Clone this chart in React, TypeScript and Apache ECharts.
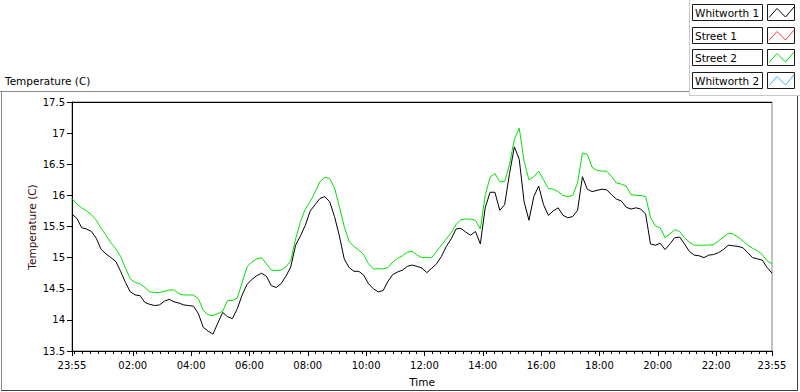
import React, { useEffect, useRef } from "react";
import * as echarts from "echarts";

// Minutes after 23:55 (sampled every 10 min over 24 h)
const WHITWORTH_1 = [
  15.70, 15.63, 15.48, 15.46, 15.42, 15.31, 15.13, 15.06, 15.00, 14.94, 14.78, 14.60,
  14.45, 14.40, 14.39, 14.28, 14.25, 14.23, 14.24, 14.30, 14.33, 14.29, 14.27, 14.24,
  14.23, 14.22, 14.10, 13.88, 13.82, 13.77, 13.95, 14.12, 14.05, 14.02, 14.18, 14.40,
  14.57, 14.65, 14.71, 14.75, 14.70, 14.55, 14.52, 14.58, 14.70, 14.85, 15.20, 15.35,
  15.52, 15.75, 15.85, 15.95, 15.98, 15.90, 15.66, 15.35, 14.98, 14.84, 14.78, 14.78,
  14.72, 14.58, 14.50, 14.45, 14.47, 14.62, 14.73, 14.77, 14.80, 14.86, 14.88, 14.86,
  14.83, 14.76, 14.83, 14.90, 15.02, 15.18, 15.30, 15.46, 15.47, 15.41, 15.36, 15.42,
  15.22, 15.80, 16.05, 16.05, 15.76, 15.85, 16.35, 16.78, 16.58, 15.90, 15.60, 15.98,
  16.15, 15.85, 15.68, 15.75, 15.80, 15.68, 15.64, 15.66, 15.76, 16.30, 16.10, 16.06,
  16.08, 16.10, 16.09, 16.01, 15.94, 15.91, 15.81, 15.78, 15.80, 15.78, 15.70, 15.22,
  15.20, 15.23, 15.13, 15.22, 15.32, 15.33, 15.22, 15.10, 15.04, 15.03, 15.00, 15.04,
  15.05, 15.08, 15.13, 15.20, 15.19, 15.18, 15.16, 15.08, 15.00, 14.98, 14.96, 14.84,
  14.75,
];

const STREET_2 = [
  15.95, 15.86, 15.80, 15.75, 15.69, 15.60, 15.47, 15.36, 15.24, 15.14, 15.02, 14.83,
  14.66, 14.60, 14.58, 14.52, 14.45, 14.44, 14.44, 14.46, 14.48, 14.48, 14.42, 14.40,
  14.40, 14.40, 14.34, 14.15, 14.08, 14.07, 14.10, 14.14, 14.31, 14.31, 14.35, 14.60,
  14.85, 14.93, 14.98, 15.00, 14.90, 14.80, 14.79, 14.80, 14.85, 14.95, 15.30, 15.58,
  15.78, 15.90, 16.05, 16.22, 16.29, 16.27, 16.12, 15.82, 15.50, 15.26, 15.18, 15.12,
  15.05, 14.90, 14.82, 14.82, 14.82, 14.84, 14.93, 14.99, 15.03, 15.09, 15.10, 15.04,
  15.00, 15.00, 15.00, 15.10, 15.20, 15.30, 15.40, 15.53, 15.61, 15.62, 15.62, 15.60,
  15.46, 16.00, 16.29, 16.35, 16.22, 16.22, 16.50, 16.90, 17.08, 16.55, 16.25, 16.30,
  16.39, 16.25, 16.11, 16.10, 16.06, 16.00, 15.98, 16.00, 16.20, 16.68, 16.66, 16.45,
  16.40, 16.39, 16.39, 16.30, 16.20, 16.18, 16.15, 16.01, 16.00, 16.00, 15.98, 15.65,
  15.51, 15.48, 15.32, 15.38, 15.45, 15.42, 15.32, 15.25, 15.20, 15.20, 15.20, 15.20,
  15.21, 15.27, 15.33, 15.39, 15.38, 15.33, 15.27, 15.20, 15.15, 15.11, 15.05, 14.95,
  14.90,
];

const STREET_1: number[] = [];
const WHITWORTH_2: number[] = [];

const SAMPLE_STEP_MIN = 10;

// Major tick positions (minutes after 23:55) and their labels
const MAJOR_TICKS = [0, 125, 245, 365, 485, 605, 725, 845, 965, 1085, 1205, 1325, 1440];
const MAJOR_LABELS = [
  "23:55", "02:00", "04:00", "06:00", "08:00", "10:00", "12:00",
  "14:00", "16:00", "18:00", "20:00", "22:00", "23:55",
];
// Minor ticks every 16 min from midnight (midnight = 5 min after 23:55)
const MINOR_START = 5;
const MINOR_STEP = 16;

const LEGEND_NAMES = ["Whitworth 1", "Street 1", "Street 2", "Whitworth 2"];
const LEGEND_COLORS = ["#000000", "#ff3a3a", "#00e000", "#33b4ff"];

const FONT = "DejaVu Sans";

function toPairs(values: number[]) {
  return values.map((v, i) => [i * SAMPLE_STEP_MIN, v]);
}

export default function App() {
  const ref = useRef<HTMLDivElement>(null);

  useEffect(() => {
    document.body.style.margin = "0";
    if (!ref.current) return;
    const chart = echarts.init(ref.current, undefined, { renderer: "svg" });

    const minor: number[] = [];
    for (let m = MINOR_START; m <= 1440; m += MINOR_STEP) minor.push(m);

    const legendRows = [4, 27, 49, 72];
    const legendGraphics: any[] = [];
    LEGEND_NAMES.forEach((name, i) => {
      const y = legendRows[i];
      legendGraphics.push({
        type: "rect",
        shape: { x: 692.5, y: y + 0.5, width: 70, height: 16 },
        style: { fill: "#fff", stroke: "#1a1a1a", lineWidth: 1 },
      });
      legendGraphics.push({
        type: "text",
        x: 695,
        y: y + 9,
        style: {
          text: name,
          fill: "#000",
          font: `10.5px "${FONT}"`,
          verticalAlign: "middle",
          align: "left",
        },
      });
      legendGraphics.push({
        type: "rect",
        shape: { x: 767.5, y: y + 0.5, width: 27, height: 16 },
        style: { fill: "#fff", stroke: "#1a1a1a", lineWidth: 1 },
      });
      legendGraphics.push({
        type: "polyline",
        shape: {
          points: [
            [769, y + 13.5],
            [777, y + 4.5],
            [785.5, y + 13],
            [794, y + 3],
          ],
        },
        style: { stroke: LEGEND_COLORS[i], lineWidth: 1, fill: "none" },
      });
    });

    const option: any = {
      animation: false,
      backgroundColor: "#fff",
      textStyle: { fontFamily: FONT },
      grid: {
        left: 72,
        top: 102,
        width: 700,
        height: 250,
        show: true,
        borderColor: "#808080",
        borderWidth: 1,
        backgroundColor: "#fff",
      },
      xAxis: [
        {
          type: "value",
          min: 0,
          max: 1440,
          name: "Time",
          nameLocation: "middle",
          nameGap: 25,
          nameTextStyle: { color: "#000", fontSize: 10.5, fontFamily: FONT },
          axisLine: { show: true, lineStyle: { color: "#000", width: 1 } },
          axisTick: {
            show: true,
            length: 5,
            customValues: MAJOR_TICKS,
            lineStyle: { color: "#000" },
          },
          axisLabel: {
            customValues: MAJOR_TICKS,
            formatter: (v: number) => {
              const idx = MAJOR_TICKS.indexOf(Math.round(v));
              return idx >= 0 ? MAJOR_LABELS[idx] : "";
            },
            color: "#000",
            fontSize: 10,
            fontFamily: FONT,
            margin: 9,
          },
          splitLine: { show: false },
        },
        {
          type: "value",
          min: 0,
          max: 1440,
          position: "bottom",
          axisLine: { show: false },
          axisTick: {
            show: true,
            length: 3,
            customValues: minor,
            lineStyle: { color: "#000" },
          },
          axisLabel: { show: false },
          splitLine: { show: false },
        },
      ],
      yAxis: {
        type: "value",
        min: 13.5,
        max: 17.5,
        interval: 0.5,
        axisLine: { show: true, lineStyle: { color: "#000" } },
        axisTick: { show: true, length: 5, lineStyle: { color: "#000" } },
        axisLabel: { color: "#000", fontSize: 10, fontFamily: FONT, margin: 7 },
        splitLine: { show: false },
      },
      series: [
        {
          name: "Street 2",
          type: "line",
          data: toPairs(STREET_2),
          showSymbol: false,
          lineStyle: { color: "#00e000", width: 1 },
          itemStyle: { color: "#00e000" },
          z: 2,
        },
        {
          name: "Street 1",
          type: "line",
          data: toPairs(STREET_1),
          showSymbol: false,
          lineStyle: { color: "#ff3a3a", width: 1 },
          z: 2,
        },
        {
          name: "Whitworth 2",
          type: "line",
          data: toPairs(WHITWORTH_2),
          showSymbol: false,
          lineStyle: { color: "#33b4ff", width: 1 },
          z: 2,
        },
        {
          name: "Whitworth 1",
          type: "line",
          data: toPairs(WHITWORTH_1),
          showSymbol: false,
          lineStyle: { color: "#000", width: 1 },
          itemStyle: { color: "#000" },
          z: 3,
        },
      ],
      graphic: [
        // outer frame
        { type: "line", shape: { x1: 0, y1: 91.5, x2: 690, y2: 91.5 }, style: { stroke: "#8a8a8a", lineWidth: 1 } },
        { type: "line", shape: { x1: 1.5, y1: 91.5, x2: 1.5, y2: 390 }, style: { stroke: "#8a8a8a", lineWidth: 1 } },
        { type: "line", shape: { x1: 1, y1: 390.5, x2: 798, y2: 390.5 }, style: { stroke: "#404040", lineWidth: 1 } },
        { type: "line", shape: { x1: 797.5, y1: 95, x2: 797.5, y2: 391 }, style: { stroke: "#404040", lineWidth: 1 } },
        { type: "line", shape: { x1: 689.5, y1: 0, x2: 689.5, y2: 95.5 }, style: { stroke: "#c8c8c8", lineWidth: 1 } },
        { type: "line", shape: { x1: 689.5, y1: 95.5, x2: 800, y2: 95.5 }, style: { stroke: "#c8c8c8", lineWidth: 1 } },
        // plot top border (black)
        { type: "line", shape: { x1: 72, y1: 102.5, x2: 772, y2: 102.5 }, style: { stroke: "#000", lineWidth: 1 }, z: 10 },
        // titles
        {
          type: "text",
          x: 5,
          y: 81,
          style: { text: "Temperature (C)", fill: "#000", font: `10.5px "${FONT}"`, verticalAlign: "middle" },
        },
        {
          type: "text",
          x: 32,
          y: 227,
          rotation: Math.PI / 2,
          style: {
            text: "Temperature (C)",
            fill: "#3a0c0c",
            font: `10.5px "${FONT}"`,
            align: "center",
            verticalAlign: "middle",
          },
        },
        ...legendGraphics,
      ],
    };

    chart.setOption(option);
    return () => chart.dispose();
  }, []);

  return <div ref={ref} style={{ width: 800, height: 392 }} />;
}
